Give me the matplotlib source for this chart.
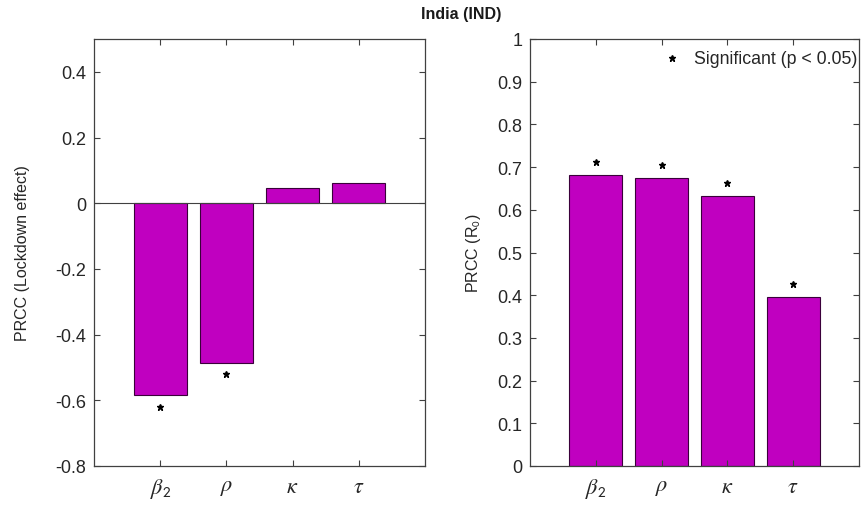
import numpy as np
import matplotlib.pyplot as plt

plt.rcParams['font.family'] = ['Liberation Sans', 'DejaVu Sans']
plt.rcParams['mathtext.fontset'] = 'stix'

params = [r'$\beta_\mathsf{2}$', r'$\rho$', r'$\kappa$', r'$\tau$']
prcc_lockdown = [-0.585, -0.486, 0.046, 0.061]
sig_lockdown = [True, True, False, False]
prcc_r0 = [0.682, 0.675, 0.632, 0.396]
sig_r0 = [True, True, True, True]

bar_color = '#C000C0'
axis_color = '#404040'
text_color = '#262626'


def style_axes(ax):
    ax.tick_params(direction='in', top=True, right=True, length=4, pad=5.5,
                   colors=axis_color, labelcolor=text_color, labelsize=13)
    ax.tick_params(axis='x', labelsize=16, pad=7)
    for s in ax.spines.values():
        s.set_color(axis_color)
        s.set_linewidth(0.9)


def mark_significant(ax, x, vals, sig, offset):
    for xi, v, s in zip(x, vals, sig):
        if not s:
            continue
        y = v + offset if v >= 0 else v - offset
        ax.plot(xi, y, marker='*', markersize=5, color='black', linestyle='none')


fig = plt.figure(figsize=(8.63, 5.06), dpi=100)
ax1 = fig.add_axes([94 / 863, 1 - 467 / 506, 331 / 863, 427 / 506])
ax2 = fig.add_axes([530 / 863, 1 - 467 / 506, 329 / 863, 427 / 506])

x = np.arange(1, len(params) + 1)

# left panel: lockdown effect
ax1.bar(x, prcc_lockdown, width=0.8, color=bar_color, edgecolor='#3a003a', linewidth=0.8)
ax1.axhline(0, color=axis_color, linewidth=0.8)
ax1.set_xlim(0, 5)
ax1.set_ylim(-0.8, 0.5)
ax1.set_yticks([-0.8, -0.6, -0.4, -0.2, 0, 0.2, 0.4])
ax1.set_yticklabels(['-0.8', '-0.6', '-0.4', '-0.2', '0', '0.2', '0.4'])
ax1.set_xticks(x)
ax1.set_xticklabels(params)
style_axes(ax1)
mark_significant(ax1, x, prcc_lockdown, sig_lockdown, 0.035)
fig.text(22 / 863, 1 - 253 / 506, 'PRCC (Lockdown effect)', rotation=90,
         ha='center', va='center', fontsize=11.5, color=text_color)

# right panel: R0
ax2.bar(x, prcc_r0, width=0.8, color=bar_color, edgecolor='#3a003a', linewidth=0.8)
ax2.set_xlim(0, 5)
ax2.set_ylim(0, 1)
ax2.set_yticks(np.round(np.arange(0, 1.01, 0.1), 1))
ax2.set_yticklabels(['0'] + [f'{v:.1f}' for v in np.arange(0.1, 0.95, 0.1)] + ['1'])
ax2.set_xticks(x)
ax2.set_xticklabels(params)
style_axes(ax2)
mark_significant(ax2, x, prcc_r0, sig_r0, 0.03)
fig.text(473 / 863, 1 - 253 / 506, r'PRCC (R$_\mathsf{0}$)', rotation=90,
         ha='center', va='center', fontsize=11.5, color=text_color)

ax2.plot(0.432, 0.955, marker='*', markersize=5, color='black',
         transform=ax2.transAxes, linestyle='none')
ax2.text(0.995, 0.955, 'Significant (p < 0.05)', transform=ax2.transAxes,
         ha='right', va='center', fontsize=12.8, color=text_color)

fig.text(461 / 863, 1 - 15 / 506, 'India (IND)', ha='center', va='center',
         fontsize=11.5, fontweight='bold', color='#1a1a1a')

fig.savefig('out.png', dpi=100)
